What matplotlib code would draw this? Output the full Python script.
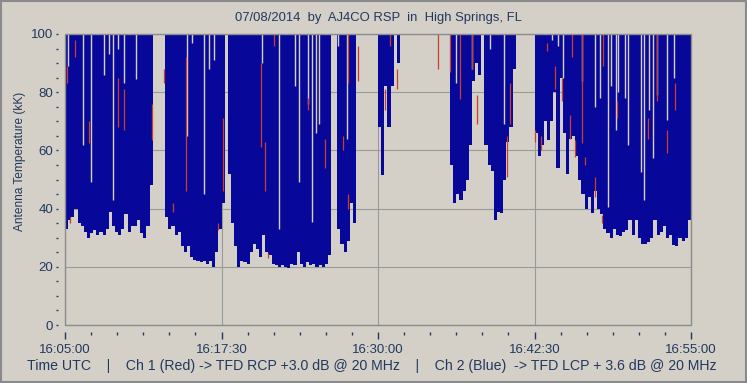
import numpy as np
import matplotlib
matplotlib.use('Agg')
import matplotlib.pyplot as plt
from matplotlib.patches import Rectangle

# time axis: seconds after 16:05:00 UTC, one column every 15 s
STEP = 15
block_start = [0, 480, 780, 1305, 1500, 1590, 1845, 2010, 2250]

# lower edge of the blue (Ch 2) trace in each burst block, kK (top is off scale, >100)
b1_low = [33, 36, 37, 40, 35, 34, 32, 30, 31.5, 32.5, 31, 32, 31, 33, 39, 34, 32, 31,
          33, 38, 32, 34, 34, 36, 31.5, 30, 34, 48]
b2_low = [37, 33, 34, 31, 32, 27, 25, 27, 23.5, 22.3, 22, 21.5, 22, 21, 22, 20, 25, 33, 42]
b3_low = [52, 35, 27, 20, 22, 21.5, 21, 25, 28, 26, 23.5, 31, 25, 24, 21, 20.5, 20, 20.5,
          20, 19.5, 21, 20.5, 25, 21, 20, 21.5, 20.5, 21, 20, 20.5, 19.8, 21, 24]
b4_low = [33, 28, 25, 29, 42, 35]
b5_low = [68, 51.5, 82, 68, 82]
b6_low = [90]
b7_low = [55, 42, 45, 43, 46, 50, 62, 84, 90, 86]
b8_low = [62, 55, 53, 36, 39, 38.5, 50, 63, 68, 88]
b9_low = [66, 58, 62, 70, 63.6, 70, 80, 54, 85, 66, 52, 64, 65, 58, 50, 45, 40, 44, 38.5,
          46, 40, 38, 33, 31.6, 30, 33, 31, 30.5, 32, 32.5, 36, 31, 36, 30, 28, 28, 28.5,
          30, 36, 31, 32, 34, 30, 31, 27.5, 27, 30, 29, 30, 36, 33]
blue_lows = [b1_low, b2_low, b3_low, b4_low, b5_low, b6_low, b7_low, b8_low, b9_low]

# short dropouts of the blue trace: time (s) and the highest value reached there
drop_t = [13, 85, 125, 188, 212, 228, 255, 284, 338, 583, 609, 668, 691, 715, 943, 1027,
          1100, 1122, 1166, 1185, 1203, 1219, 1310, 1350, 1872, 1952, 2037, 2105, 2335,
          2364, 2388, 2479, 2540, 2564, 2601, 2616, 2639, 2648, 2684, 2700, 2759, 2775,
          2799, 2816, 2838, 2883, 2918]
drop_v = [89, 62, 49, 86, 93, 43, 95, 83, 84.5, 65, 97, 45, 88, 91, 90, 33,
          82, 49, 76, 35.5, 66, 69, 96, 64, 83, 88, 95, 69, 98,
          96, 85, 84, 75, 78, 40.7, 82, 67, 80, 78, 62, 52.7, 43,
          74, 57.4, 79, 70.4, 85]

# red (Ch 1) segments that show through: time (s), top, bottom
red_t = [8, 24, 48, 116, 255, 284, 415, 476, 517, 580, 733, 756, 939, 958, 973, 1003, 1164,
         1246, 1332, 1356, 1358, 1404, 1533, 1557, 1590, 1787, 1845, 1893, 1949, 1976, 2117,
         2132, 2252, 2280, 2308, 2348, 2380, 2420, 2428, 2446, 2479, 2492, 2540, 2572, 2580,
         2643, 2795, 2835, 2883, 2923]
red_hi = [89, 37, 98, 70, 85, 81, 76, 88, 42, 92, 35, 71, 90, 63, 24.7, 100, 78,
          64, 65, 45, 100, 96, 81, 100, 88, 100, 100, 100, 100, 79, 65,
          83, 67, 65, 97, 89, 85, 72, 100, 63.6, 100, 57.8, 51, 37.8, 100,
          77, 71, 100, 67, 83]
red_lo = [83, 35, 92, 62.5, 68, 67, 63.6, 83, 39, 46, 32.6, 46, 61, 46, 23, 96, 74,
          54, 60, 40, 83, 84, 74, 96, 81, 88, 87, 77.5, 88, 69, 51,
          69, 63, 60, 94, 81, 77, 64, 92, 57.8, 62.6, 55, 44, 35, 89,
          71, 64, 77, 59, 74]

xtick_pos = [0, 750, 1500, 2250, 3000]
xtick_lab = ['16:05:00', '16:17:30', '16:30:00', '16:42:30', '16:55:00']

BG = '#D4D0C8'
TXT = '#22385E'
BLUE = '#07079A'
RED = '#C8402C'

plt.rcParams['font.family'] = ['Liberation Sans', 'DejaVu Sans']

fig = plt.figure(figsize=(7.47, 3.83), dpi=100, facecolor=BG)
ax = fig.add_axes([65/747, 58/383, 626/747, 291/383], facecolor=BG)

for t0, lows in zip(block_start, blue_lows):
    lows = np.array(lows, dtype=float)
    t = t0 + STEP*np.arange(len(lows))
    ax.bar(t, 100 - lows, bottom=lows, width=STEP, align='edge', color=BLUE,
           linewidth=0, zorder=2)

ax.vlines(drop_t, drop_v, 100, colors=BG, linewidth=1.0, zorder=3)
ax.vlines(red_t, red_lo, red_hi, colors=RED, linewidth=0.9, zorder=4)

ax.set_xlim(0, 3000)
ax.set_ylim(0, 100)
ax.set_xticks(xtick_pos)
ax.set_xticklabels(xtick_lab)
ax.set_xticks(np.arange(0, 3001, 125), minor=True)
ax.set_yticks(np.arange(0, 101, 20))
ax.set_yticks(np.arange(0, 101, 5), minor=True)
ax.grid(True, which='major', color='#9A9A9A', linewidth=0.8)
ax.set_axisbelow(True)

for s in ['top', 'right']:
    ax.spines[s].set_visible(False)
for s in ['left', 'bottom']:
    ax.spines[s].set_position(('outward', 5))
    ax.spines[s].set_visible(False)
ax.add_patch(Rectangle((0, 0), 1, 1, transform=ax.transAxes, fill=False,
                       edgecolor='#8C8C8C', linewidth=1.0, zorder=5, clip_on=False))

ax.tick_params(axis='x', which='major', length=5, width=1, color=TXT, pad=4,
               labelsize=9.5, labelcolor=TXT)
ax.tick_params(axis='x', which='minor', length=2, width=1, color=TXT)
ax.tick_params(axis='y', which='both', length=1.5, width=1, color=TXT, pad=2,
               labelsize=9.5, labelcolor=TXT)

fig.text(378/747, 1 - 18/383, '07/08/2014  by  AJ4CO RSP  in  High Springs, FL',
         ha='center', va='center', color=TXT, fontsize=9.4)
fig.text(20/747, 1 - 161/383, 'Antenna Temperature (kK)', rotation=90,
         ha='center', va='center', color=TXT, fontsize=8.6)
fig.text(372/747, 1 - 366/383,
         'Time UTC    |    Ch 1 (Red) -> TFD RCP +3.0 dB @ 20 MHz    |    '
         'Ch 2 (Blue)  -> TFD LCP + 3.6 dB @ 20 MHz',
         ha='center', va='center', color=TXT, fontsize=10.2)

fig.add_artist(Rectangle((0.001, 0.002), 0.997, 0.996, transform=fig.transFigure,
                         fill=False, edgecolor='#8A8A8A', linewidth=1.5))

fig.savefig('out.png', dpi=100, facecolor=BG)
